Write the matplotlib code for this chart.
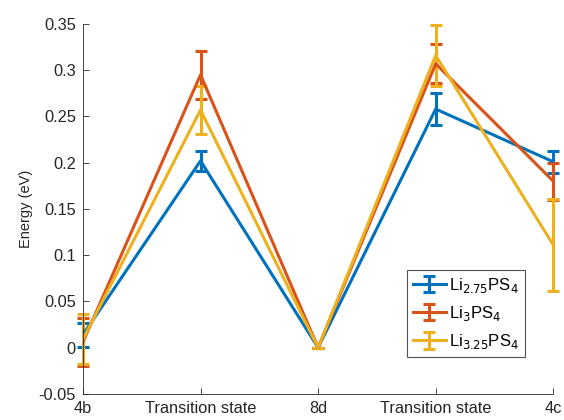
import numpy as np
import matplotlib.pyplot as plt

plt.rcParams['font.family'] = ['Liberation Sans', 'DejaVu Sans']

# --- Data ---
sites = ["4b", "Transition state", "8d", "Transition state", "4c"]
labels = ["Li$_{2.75}$PS$_4$", "Li$_3$PS$_4$", "Li$_{3.25}$PS$_4$"]

e_275 = [0.014, 0.202, 0.0, 0.258, 0.201]
err_275 = [0.013, 0.011, 0.0, 0.017, 0.012]

e_300 = [0.006, 0.295, 0.0, 0.307, 0.180]
err_300 = [0.026, 0.026, 0.0, 0.021, 0.020]

e_325 = [0.009, 0.257, 0.0, 0.316, 0.111]
err_325 = [0.027, 0.026, 0.0, 0.033, 0.050]

colors = ["#0072BD", "#D95319", "#EDB120"]
gray = "#262626"

fig = plt.figure(figsize=(5.64, 4.2), dpi=100)
ax = fig.add_axes([0.147, 0.062, 0.834, 0.881])

x = np.arange(len(sites))
for y, err, c, lab in zip([e_275, e_300, e_325], [err_275, err_300, err_325], colors, labels):
    eb = ax.errorbar(x, y, yerr=err, color=c, linewidth=2.2, elinewidth=2.2,
                     capsize=4.5, capthick=2.2, label=lab)
    for art in eb.lines[1] + eb.lines[2]:
        art.set_clip_on(False)

ax.set_xlim(0, 4)
ax.set_ylim(-0.05, 0.35)
ax.set_xticks(x)
ax.set_xticklabels(sites)
yt = np.arange(-0.05, 0.351, 0.05)
ax.set_yticks(yt)
ax.set_yticklabels(["-0.05", "0", "0.05", "0.1", "0.15", "0.2", "0.25", "0.3", "0.35"])
ax.set_ylabel("Energy (eV)", fontsize=10.5, color=gray)

for s in ["top", "right"]:
    ax.spines[s].set_visible(False)
for s in ["left", "bottom"]:
    ax.spines[s].set_color(gray)
    ax.spines[s].set_linewidth(0.6)
ax.tick_params(direction="in", length=4, width=0.6, colors=gray, labelsize=11.8, pad=5)

leg = ax.legend(loc="lower right", bbox_to_anchor=(0.94, 0.1), fontsize=12,
                fancybox=False, edgecolor=gray, handlelength=2.0, handletextpad=0.2,
                borderpad=0.35, labelspacing=0.55, borderaxespad=0)
leg.get_frame().set_linewidth(0.8)

fig.savefig("out.png", dpi=100)
